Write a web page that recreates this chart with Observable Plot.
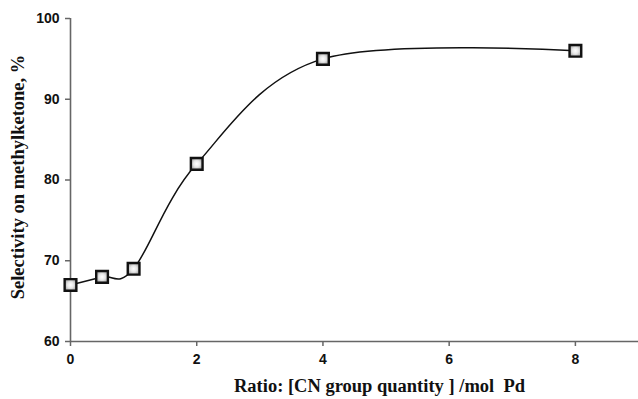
<!DOCTYPE html>
<html>
<head>
<meta charset="utf-8">
<script src="https://cdn.jsdelivr.net/npm/d3@7"></script>
<script src="https://cdn.jsdelivr.net/npm/@observablehq/plot@0.6"></script>
<style>
  html, body { margin: 0; padding: 0; background: #fff; }
  #chart svg { display: block; }
</style>
</head>
<body>
<div id="chart"></div>
<script>
const ratios = [0, 0.5, 1, 2, 4, 8];
const selectivity = [67, 68, 69, 82, 95, 96];
const xTicks = [0, 2, 4, 6, 8];
const yTicks = [60, 70, 80, 90, 100];
const xTitle = "Ratio: [CN group quantity ] /mol  Pd";
const yTitle = "Selectivity on methylketone, %";

const data = ratios.map((r, i) => ({ratio: r, sel: selectivity[i]}));

const chart = Plot.plot({
  width: 638,
  height: 399,
  marginTop: 18,
  marginBottom: 58,
  marginLeft: 70,
  marginRight: 0,
  style: {background: "#fff", color: "#111", fontFamily: "'Liberation Sans', Arial, sans-serif", fontSize: "14px", fontWeight: "bold"},
  x: {domain: [0, 9]},
  y: {domain: [60, 100]},
  marks: [
    Plot.ruleY([60], {stroke: "#666", strokeWidth: 1.6}),
    Plot.ruleX([0], {stroke: "#666", strokeWidth: 1.6}),
    Plot.axisX({ticks: xTicks, tickSize: 5, tickPadding: 8, label: null, stroke: "#666", strokeWidth: 1.5,
      fontSize: 14, fontWeight: "bold", fill: "#111"}),
    Plot.axisY({ticks: yTicks, tickSize: 5, tickPadding: 6, label: null, stroke: "#666", strokeWidth: 1.5,
      fontSize: 14, fontWeight: "bold", fill: "#111"}),
    Plot.line(data, {x: "ratio", y: "sel", curve: "cardinal", tension: 0, stroke: "#111", strokeWidth: 1.5}),
    Plot.dot(data, {x: "ratio", y: "sel", symbol: "square", r: 6.6, fill: "url(#sqgrad)", stroke: "#111", strokeWidth: 2.4}),
    Plot.text([xTitle], {frameAnchor: "bottom", lineAnchor: "middle", dy: 45, dx: 25,
      fontSize: 18.5, fontWeight: "bold", fontFamily: "'Liberation Serif', 'Times New Roman', serif", fill: "#111"}),
    Plot.text([yTitle], {frameAnchor: "left", textAnchor: "middle", lineAnchor: "middle", rotate: -90, dx: -52, dy: -3,
      fontSize: 18.5, fontWeight: "bold", fontFamily: "'Liberation Serif', 'Times New Roman', serif", fill: "#111"})
  ]
});

const ns = "http://www.w3.org/2000/svg";
const defs = document.createElementNS(ns, "defs");
defs.innerHTML = `<radialGradient id="sqgrad" cx="50%" cy="50%" r="60%">
  <stop offset="0%" stop-color="#ffffff"/>
  <stop offset="45%" stop-color="#e6e6e6"/>
  <stop offset="100%" stop-color="#9a9a9a"/>
</radialGradient>`;
chart.insertBefore(defs, chart.firstChild);
document.getElementById("chart").appendChild(chart);
</script>
</body>
</html>
